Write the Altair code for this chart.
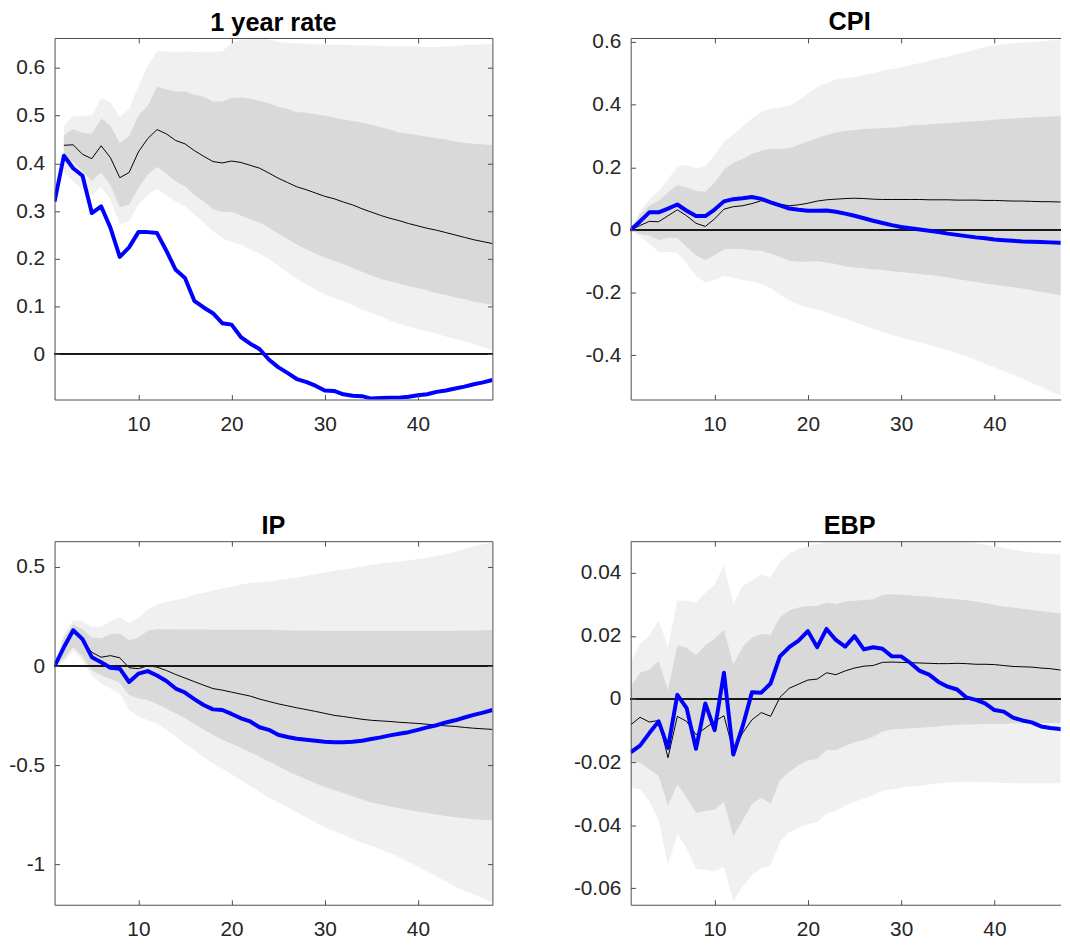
import altair as alt
import pandas as pd

K = list(range(1, 49))
XTICKS = [10, 20, 30, 40]

# ---------------- 1 year rate ----------------
blue1 = [0.32, 0.416, 0.39, 0.374, 0.296, 0.31, 0.265, 0.204, 0.224, 0.256,
         0.256, 0.254, 0.217, 0.177, 0.16, 0.112, 0.098, 0.086, 0.065, 0.062,
         0.036, 0.022, 0.011, -0.011, -0.027, -0.039, -0.052, -0.058, -0.066, -0.076,
         -0.077, -0.084, -0.087, -0.088, -0.093, -0.092, -0.091, -0.091, -0.089, -0.086,
         -0.084, -0.079, -0.076, -0.072, -0.068, -0.063, -0.059, -0.054]
black1 = [None, 0.438, 0.439, 0.419, 0.41, 0.437, 0.412, 0.37, 0.381, 0.424,
          0.452, 0.471, 0.462, 0.448, 0.441, 0.427, 0.415, 0.404, 0.401, 0.405,
          0.402, 0.396, 0.39, 0.38, 0.369, 0.36, 0.351, 0.345, 0.338, 0.331,
          0.326, 0.319, 0.313, 0.305, 0.298, 0.291, 0.285, 0.28, 0.274, 0.269,
          0.264, 0.26, 0.255, 0.25, 0.245, 0.24, 0.236, 0.232]
in_hi1 = [None, 0.459, 0.472, 0.464, 0.462, 0.494, 0.479, 0.443, 0.457, 0.5,
          0.521, 0.561, 0.555, 0.551, 0.551, 0.544, 0.54, 0.53, 0.53, 0.537,
          0.538, 0.536, 0.531, 0.526, 0.519, 0.514, 0.508, 0.506, 0.503, 0.5,
          0.496, 0.492, 0.489, 0.485, 0.481, 0.476, 0.471, 0.465, 0.462, 0.459,
          0.456, 0.453, 0.45, 0.446, 0.443, 0.441, 0.44, 0.438]
in_lo1 = [None, 0.412, 0.403, 0.383, 0.363, 0.381, 0.355, 0.308, 0.314, 0.348,
          0.376, 0.393, 0.379, 0.362, 0.352, 0.334, 0.32, 0.304, 0.298, 0.298,
          0.291, 0.283, 0.276, 0.265, 0.253, 0.242, 0.23, 0.22, 0.211, 0.203,
          0.196, 0.189, 0.181, 0.173, 0.165, 0.158, 0.153, 0.148, 0.143, 0.139,
          0.134, 0.128, 0.124, 0.119, 0.115, 0.11, 0.107, 0.103]
out_hi1 = [None, 0.479, 0.499, 0.5, 0.501, 0.537, 0.528, 0.497, 0.514, 0.562,
           0.604, 0.635, 0.635, 0.633, 0.635, 0.633, 0.634, 0.634, 0.635, 0.652,
           0.66, 0.662, 0.664, 0.66, 0.655, 0.653, 0.652, 0.651, 0.65, 0.65,
           0.649, 0.648, 0.648, 0.647, 0.647, 0.646, 0.646, 0.645, 0.645, 0.645,
           0.644, 0.644, 0.645, 0.646, 0.648, 0.649, 0.65, 0.65]
out_lo1 = [None, 0.383, 0.362, 0.345, 0.333, 0.351, 0.324, 0.272, 0.278, 0.314,
           0.333, 0.347, 0.333, 0.32, 0.31, 0.293, 0.276, 0.258, 0.243, 0.236,
           0.229, 0.22, 0.211, 0.2, 0.186, 0.172, 0.158, 0.146, 0.135, 0.125,
           0.118, 0.111, 0.103, 0.094, 0.086, 0.079, 0.07, 0.064, 0.058, 0.052,
           0.048, 0.043, 0.037, 0.032, 0.027, 0.021, 0.015, 0.01]

# ---------------- CPI ----------------
blue2 = [0, 0.027, 0.056, 0.056, 0.068, 0.081, 0.061, 0.044, 0.044, 0.065,
         0.091, 0.098, 0.101, 0.105, 0.099, 0.088, 0.078, 0.068, 0.064, 0.061,
         0.061, 0.062, 0.058, 0.052, 0.045, 0.037, 0.029, 0.022, 0.015, 0.009,
         0.005, 0.001, -0.003, -0.007, -0.012, -0.016, -0.02, -0.024, -0.027, -0.031,
         -0.033, -0.035, -0.037, -0.038, -0.039, -0.04, -0.041, -0.042]
black2 = [0, 0.014, 0.027, 0.026, 0.045, 0.064, 0.045, 0.021, 0.011, 0.035,
          0.066, 0.074, 0.077, 0.084, 0.093, 0.091, 0.082, 0.077, 0.08, 0.085,
          0.092, 0.096, 0.098, 0.1, 0.101, 0.1, 0.098, 0.097, 0.097, 0.097,
          0.097, 0.097, 0.096, 0.096, 0.096, 0.095, 0.095, 0.095, 0.094, 0.094,
          0.093, 0.092, 0.092, 0.091, 0.09, 0.09, 0.089, 0.088]
in_hi2 = [0, 0.05, 0.077, 0.093, 0.119, 0.143, 0.135, 0.124, 0.122, 0.151,
          0.193, 0.214, 0.226, 0.242, 0.253, 0.258, 0.259, 0.261, 0.272, 0.282,
          0.293, 0.303, 0.311, 0.316, 0.319, 0.322, 0.324, 0.325, 0.326, 0.329,
          0.333, 0.335, 0.337, 0.339, 0.341, 0.343, 0.345, 0.347, 0.349, 0.352,
          0.354, 0.356, 0.358, 0.359, 0.361, 0.362, 0.363, 0.364]
in_lo2 = [0, -0.013, -0.018, -0.032, -0.025, -0.026, -0.055, -0.081, -0.097, -0.081,
          -0.062, -0.06, -0.062, -0.065, -0.067, -0.076, -0.086, -0.099, -0.102, -0.102,
          -0.1, -0.104, -0.109, -0.116, -0.12, -0.123, -0.126, -0.128, -0.132, -0.135,
          -0.138, -0.141, -0.144, -0.147, -0.152, -0.157, -0.162, -0.166, -0.171, -0.175,
          -0.179, -0.183, -0.187, -0.193, -0.198, -0.203, -0.208, -0.212]
out_hi2 = [0, 0.061, 0.098, 0.124, 0.161, 0.203, 0.208, 0.196, 0.203, 0.238,
           0.282, 0.305, 0.329, 0.356, 0.377, 0.387, 0.391, 0.396, 0.414, 0.435,
           0.456, 0.469, 0.48, 0.484, 0.489, 0.495, 0.501, 0.508, 0.514, 0.519,
           0.526, 0.533, 0.54, 0.547, 0.554, 0.561, 0.568, 0.577, 0.584, 0.589,
           0.593, 0.596, 0.598, 0.6, 0.602, 0.605, 0.608, 0.61]
out_lo2 = [0, -0.023, -0.044, -0.071, -0.071, -0.074, -0.107, -0.147, -0.168, -0.16,
           -0.147, -0.153, -0.16, -0.165, -0.173, -0.186, -0.207, -0.225, -0.239, -0.249,
           -0.255, -0.263, -0.274, -0.284, -0.295, -0.305, -0.316, -0.326, -0.335, -0.344,
           -0.353, -0.36, -0.368, -0.377, -0.384, -0.394, -0.404, -0.416, -0.428, -0.439,
           -0.452, -0.463, -0.476, -0.488, -0.502, -0.516, -0.526, -0.535]

# ---------------- IP ----------------
blue3 = [0, 0.095, 0.181, 0.136, 0.045, 0.02, -0.008, -0.013, -0.08, -0.038,
         -0.025, -0.047, -0.075, -0.113, -0.133, -0.166, -0.196, -0.218, -0.221, -0.241,
         -0.263, -0.279, -0.308, -0.321, -0.346, -0.357, -0.366, -0.371, -0.376, -0.381,
         -0.384, -0.384, -0.381, -0.376, -0.367, -0.359, -0.349, -0.341, -0.333, -0.321,
         -0.309, -0.298, -0.284, -0.273, -0.259, -0.246, -0.234, -0.221]
black3 = [0, 0.095, 0.181, 0.128, 0.07, 0.045, 0.053, 0.042, -0.008, -0.013,
          0.002, -0.005, -0.022, -0.042, -0.06, -0.078, -0.096, -0.113, -0.121, -0.131,
          -0.141, -0.151, -0.166, -0.178, -0.19, -0.2, -0.21, -0.219, -0.228, -0.238,
          -0.248, -0.254, -0.261, -0.268, -0.273, -0.276, -0.279, -0.283, -0.286, -0.289,
          -0.293, -0.298, -0.301, -0.304, -0.309, -0.313, -0.316, -0.319]
in_hi3 = [0, 0.145, 0.211, 0.186, 0.145, 0.14, 0.161, 0.165, 0.131, 0.145,
          0.178, 0.186, 0.186, 0.186, 0.185, 0.185, 0.185, 0.184, 0.184, 0.184,
          0.184, 0.184, 0.183, 0.183, 0.182, 0.181, 0.18, 0.18, 0.179, 0.179,
          0.178, 0.178, 0.178, 0.178, 0.178, 0.178, 0.178, 0.178, 0.178, 0.178,
          0.178, 0.178, 0.178, 0.179, 0.18, 0.18, 0.181, 0.182]
in_lo3 = [0, 0.037, 0.095, 0.048, -0.022, -0.047, -0.063, -0.085, -0.146, -0.163,
          -0.171, -0.191, -0.213, -0.238, -0.263, -0.291, -0.321, -0.346, -0.371, -0.391,
          -0.412, -0.434, -0.457, -0.481, -0.504, -0.529, -0.55, -0.57, -0.59, -0.609,
          -0.625, -0.64, -0.657, -0.673, -0.687, -0.698, -0.708, -0.717, -0.725, -0.733,
          -0.74, -0.748, -0.755, -0.762, -0.767, -0.772, -0.775, -0.778]
out_hi3 = [0, 0.161, 0.233, 0.228, 0.198, 0.198, 0.228, 0.244, 0.219, 0.244,
           0.286, 0.311, 0.324, 0.333, 0.344, 0.361, 0.369, 0.381, 0.391, 0.401,
           0.411, 0.419, 0.424, 0.427, 0.434, 0.441, 0.447, 0.454, 0.464, 0.472,
           0.481, 0.487, 0.494, 0.502, 0.51, 0.517, 0.522, 0.527, 0.534, 0.54,
           0.547, 0.555, 0.565, 0.577, 0.59, 0.605, 0.615, 0.622]
out_lo3 = [0, 0.02, 0.078, 0.028, -0.047, -0.088, -0.113, -0.138, -0.221, -0.254,
           -0.271, -0.291, -0.321, -0.354, -0.391, -0.424, -0.459, -0.491, -0.517, -0.545,
           -0.574, -0.604, -0.634, -0.662, -0.687, -0.712, -0.737, -0.762, -0.787, -0.812,
           -0.832, -0.85, -0.87, -0.89, -0.906, -0.925, -0.944, -0.964, -0.986, -1.011,
           -1.036, -1.061, -1.086, -1.111, -1.132, -1.152, -1.172, -1.189]

# ---------------- EBP ----------------
blue4 = [-0.0169, -0.0148, -0.0108, -0.0071, -0.0155, 0.0013, -0.0029, -0.0158, -0.0014, -0.0099,
         0.0083, -0.0176, -0.0087, 0.0021, 0.002, 0.0049, 0.0135, 0.0164, 0.0185, 0.0215,
         0.0164, 0.0222, 0.0187, 0.0166, 0.0199, 0.0157, 0.0164, 0.0159, 0.0135, 0.0135,
         0.0114, 0.0089, 0.0077, 0.0054, 0.0039, 0.003, 0.0005, -0.0003, -0.0014, -0.0035,
         -0.004, -0.0059, -0.0068, -0.0074, -0.0087, -0.0092, -0.0095, -0.0099]
black4 = [-0.0082, -0.0058, -0.0073, -0.0068, -0.0186, -0.0055, -0.0071, -0.0113, -0.0092, -0.0071,
          -0.0053, -0.0165, -0.0108, -0.0066, -0.0043, -0.0055, 0.0005, 0.0034, 0.0047, 0.006,
          0.0063, 0.0083, 0.0077, 0.0089, 0.0098, 0.0104, 0.0106, 0.0116, 0.0117, 0.0116,
          0.0115, 0.0114, 0.0113, 0.0112, 0.0112, 0.0113, 0.0112, 0.011, 0.011, 0.0109,
          0.0106, 0.0103, 0.0102, 0.0101, 0.0098, 0.0096, 0.0092, 0.0091]
in_hi4 = [0.0039, 0.0083, 0.0093, 0.012, 0.0028, 0.017, 0.0162, 0.0138, 0.017, 0.0191,
          0.0219, 0.0109, 0.0164, 0.0194, 0.0206, 0.0203, 0.0259, 0.028, 0.029, 0.0295,
          0.0295, 0.0306, 0.0301, 0.0309, 0.0311, 0.0314, 0.0316, 0.033, 0.0332, 0.033,
          0.0328, 0.0326, 0.0324, 0.0321, 0.0318, 0.0316, 0.0313, 0.0309, 0.0304, 0.0298,
          0.0293, 0.029, 0.0286, 0.0282, 0.0279, 0.0275, 0.0272, 0.027]
in_lo4 = [-0.0197, -0.0202, -0.0223, -0.0244, -0.0338, -0.027, -0.0312, -0.0361, -0.0354, -0.0351,
          -0.0326, -0.0435, -0.0385, -0.0333, -0.0312, -0.0333, -0.0257, -0.0231, -0.021, -0.0194,
          -0.019, -0.0162, -0.0162, -0.0148, -0.0137, -0.0129, -0.012, -0.0103, -0.0097, -0.0095,
          -0.0093, -0.0091, -0.0089, -0.0087, -0.0084, -0.0082, -0.0081, -0.008, -0.0079, -0.0079,
          -0.0079, -0.0077, -0.0077, -0.0076, -0.0076, -0.0076, -0.0076, -0.0076]
out_hi4 = [0.0117, 0.0175, 0.0201, 0.025, 0.0164, 0.0311, 0.0311, 0.0306, 0.0337, 0.0363,
           0.0424, 0.0301, 0.0358, 0.0376, 0.0395, 0.0386, 0.0435, 0.046, 0.0476, 0.0484,
           0.0491, 0.0496, 0.0505, 0.051, 0.0515, 0.052, 0.052, 0.0525, 0.0525, 0.0525,
           0.052, 0.0518, 0.0515, 0.0512, 0.051, 0.0505, 0.05, 0.0494, 0.0489, 0.0484,
           0.0479, 0.0473, 0.0468, 0.0465, 0.0462, 0.046, 0.0458, 0.0456]
out_lo4 = [-0.0281, -0.0286, -0.0323, -0.0385, -0.0527, -0.0427, -0.0474, -0.0537, -0.0542, -0.0547,
           -0.0532, -0.0642, -0.0595, -0.0558, -0.0537, -0.0527, -0.0453, -0.0422, -0.0409, -0.0396,
           -0.0391, -0.0364, -0.0354, -0.0338, -0.0326, -0.0315, -0.0305, -0.0291, -0.0286, -0.0281,
           -0.0277, -0.0275, -0.0271, -0.0268, -0.0265, -0.0263, -0.0263, -0.0263, -0.0264, -0.0265,
           -0.0266, -0.0267, -0.0267, -0.0268, -0.0267, -0.0267, -0.0267, -0.0267]

YT1 = [0, 0.1, 0.2, 0.3, 0.4, 0.5, 0.6]
YT2 = [-0.4, -0.2, 0, 0.2, 0.4, 0.6]
YT3 = [-1, -0.5, 0, 0.5]
YT4 = [-0.06, -0.04, -0.02, 0, 0.02, 0.04]

FONT = "Liberation Sans"
AXC = "#4d4d4d"
LABC = "#262626"
TK = 5
LFS = 21


def panel(title, blue, black, ilo, ihi, olo, ohi, ydom, yticks, xmax, width, height,
          ext, right_box, title_dx, title_dy):
    df = pd.DataFrame({"k": K, "blue": blue, "black": black, "ilo": ilo,
                       "ihi": ihi, "olo": olo, "ohi": ohi})
    xs = alt.Scale(domain=[1, xmax], nice=False, zero=False)
    ys = alt.Scale(domain=ydom, nice=False, zero=False)
    com = dict(grid=False, title=None, zindex=1)

    x_lab = alt.Axis(orient="bottom", values=XTICKS, ticks=False, tickSize=0,
                     labelPadding=14.5, labelFontSize=LFS, labelFont=FONT,
                     labelColor=LABC, labelOverlap=False, domain=True,
                     domainColor=AXC, minExtent=37, **com)
    x_bt = alt.Axis(orient="bottom", values=XTICKS, offset=-TK, tickSize=TK,
                    tickColor=AXC, labels=False, domain=False, minExtent=0, **com)
    x_top = alt.Axis(orient="top", values=XTICKS, ticks=False, tickSize=0,
                     labels=False, domain=True, domainColor=AXC, minExtent=0, **com)
    x_tt = alt.Axis(orient="top", values=XTICKS, offset=-TK, tickSize=TK,
                    tickColor=AXC, labels=False, domain=False, minExtent=0, **com)
    y_lab = alt.Axis(orient="left", values=yticks, ticks=False, tickSize=0,
                     labelPadding=10, labelFontSize=LFS, labelFont=FONT,
                     labelColor=LABC, labelOverlap=False,
                     labelExpr="toString(datum.value)", domain=True,
                     domainColor=AXC, minExtent=ext, **com)
    y_lt = alt.Axis(orient="left", values=yticks, offset=-TK, tickSize=TK,
                    tickColor=AXC, labels=False, domain=False, minExtent=0, **com)
    if right_box:
        y_rd = alt.Axis(orient="right", values=yticks, ticks=False, tickSize=0,
                        labels=False, domain=True, domainColor=AXC, minExtent=0, **com)
        y_rt = alt.Axis(orient="right", values=yticks, offset=-TK, tickSize=TK,
                        tickColor=AXC, labels=False, domain=False, minExtent=0, **com)
    else:
        y_rd = None
        y_rt = None

    base = alt.Chart(df)
    outer = base.transform_filter("isValid(datum.olo)").mark_area(
        color="#f0f0f0", clip=True).encode(
        x=alt.X("k:Q", scale=xs, axis=x_lab),
        y=alt.Y("olo:Q", scale=ys, axis=y_lab),
        y2="ohi:Q")
    inner = base.transform_filter("isValid(datum.ilo)").mark_area(
        color="#d9d9d9", clip=True).encode(
        x=alt.X("k:Q", scale=xs, axis=x_bt),
        y=alt.Y("ilo:Q", scale=ys, axis=y_lt),
        y2="ihi:Q")
    blk = base.transform_filter("isValid(datum.black)").mark_line(
        color="black", strokeWidth=1, clip=True).encode(
        x=alt.X("k:Q", scale=xs, axis=x_top),
        y=alt.Y("black:Q", scale=ys, axis=y_rd))
    zero = base.mark_rule(color="#1a1a1a", strokeWidth=1).encode(
        y=alt.Y(datum=0, scale=ys, axis=None))
    blu = base.mark_line(color="#0000ff", strokeWidth=4, clip=True,
                         strokeJoin="round").encode(
        x=alt.X("k:Q", scale=xs, axis=x_tt),
        y=alt.Y("blue:Q", scale=ys, axis=y_rt))

    return alt.layer(outer, inner, blk, zero, blu).resolve_axis(
        x="independent", y="independent").properties(
        width=width, height=height,
        title=alt.TitleParams(title, fontSize=25.5, fontWeight="bold", font=FONT,
                              color="black", offset=-18.5, frame="group",
                              anchor="middle", baseline="alphabetic",
                              dx=title_dx, dy=title_dy))


WL, WR = 442, 434
H1, H2 = 365, 367
XR = 47.1

p1 = panel("1 year rate", blue1, black1, in_lo1, in_hi1, out_lo1, out_hi1,
           [-0.095, 0.663], YT1, 48, WL, H1, 46.3, True, 0, 0)
p2 = panel("CPI", blue2, black2, in_lo2, in_hi2, out_lo2, out_hi2,
           [-0.542, 0.613], YT2, XR, WR, H1, 60, False, 4, 6)
p3 = panel("IP", blue3, black3, in_lo3, in_hi3, out_lo3, out_hi3,
           [-1.203, 0.63], YT3, 48, WL, H2, 46.3, True, 0, 0)
p4 = panel("EBP", blue4, black4, in_lo4, in_hi4, out_lo4, out_hi4,
           [-0.0652, 0.05], YT4, XR, WR, H2, 60, False, 4, 0)

row1 = alt.hconcat(p1, p2, spacing=78.6)
row2 = alt.hconcat(p3, p4, spacing=78.6)
chart = alt.vconcat(row1, row2, spacing=78).properties(
    padding={"left": 0, "top": -2.2, "right": 0, "bottom": 0}
).configure_view(stroke=None)

chart.save("out.html", embed_options={"renderer": "svg", "actions": False})
